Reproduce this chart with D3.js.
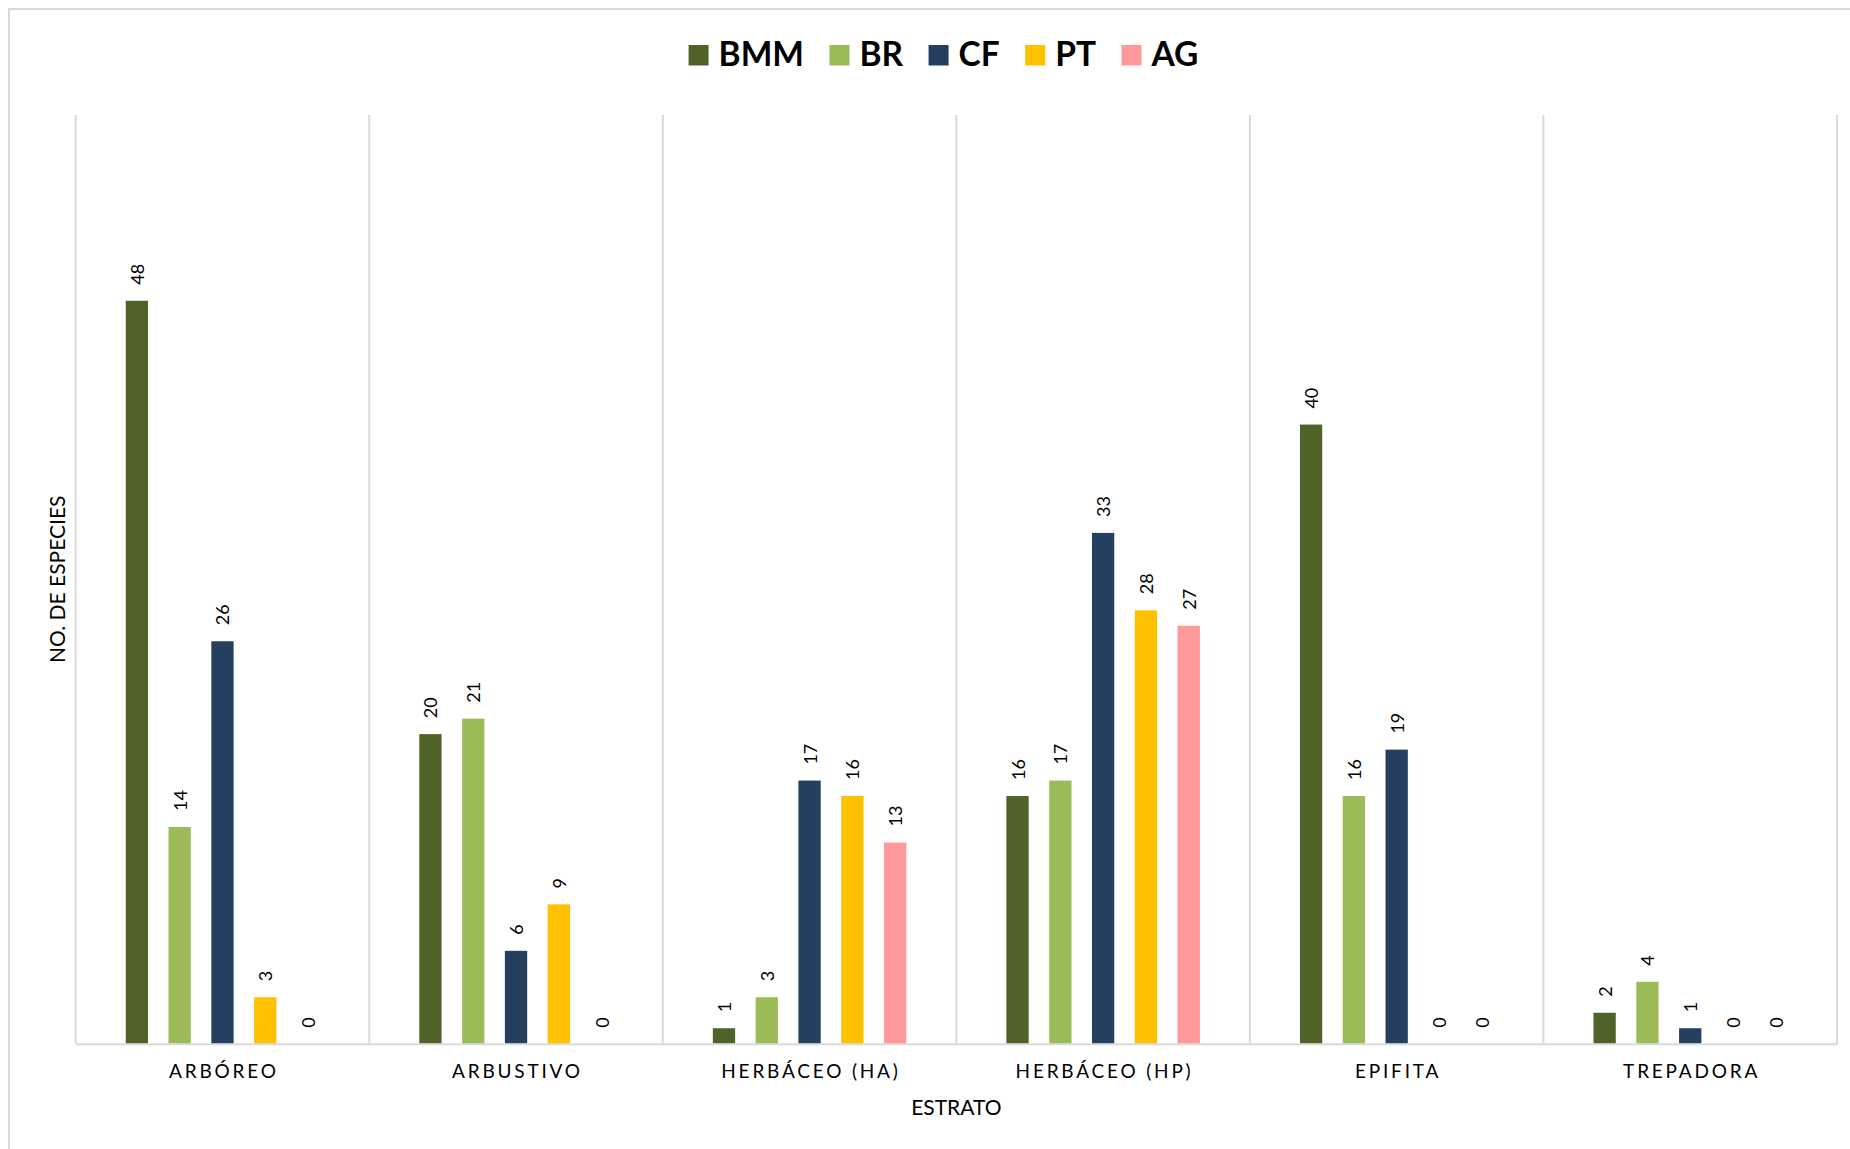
<!DOCTYPE html>
<html>
<head>
<meta charset="utf-8">
<script src="https://cdnjs.cloudflare.com/ajax/libs/d3/7.8.5/d3.min.js"></script>
<style>
  html, body { margin: 0; padding: 0; background: #fff; }
  svg { display: block; }
</style>
</head>
<body>
<script>
// Strata and species counts per vegetation type
const categories = ["ARBÓREO", "ARBUSTIVO", "HERBÁCEO (HA)", "HERBÁCEO (HP)", "EPIFITA", "TREPADORA"];
const seriesNames = ["BMM", "BR", "CF", "PT", "AG"];
const BMM = [48, 20, 1, 16, 40, 2];
const BR  = [14, 21, 3, 17, 16, 4];
const CF  = [26, 6, 17, 33, 19, 1];
const PT  = [3, 9, 16, 28, 0, 0];
const AG  = [0, 0, 13, 27, 0, 0];
const seriesValues = [BMM, BR, CF, PT, AG];
const seriesColors = ["#4f6228", "#9bbb59", "#243f60", "#ffc000", "#ff9999"];
const yMax = 60;

const W = 1850, H = 1149;
const plot = { left: 75.7, right: 1837, top: 115, bottom: 1043.7 };
const FONT = "Lato, 'Open Sans', 'Noto Sans', sans-serif";
const GRID = "#d9d9d9";

const svg = d3.select("body").append("svg").attr("width", W).attr("height", H);

// outer chart frame
svg.append("rect")
  .attr("x", 9).attr("y", 9).attr("width", W + 20).attr("height", H + 20)
  .attr("fill", "none").attr("stroke", GRID).attr("stroke-width", 2);

const x0 = d3.scaleBand().domain(categories).range([plot.left, plot.right]).padding(0);
const x1 = d3.scaleBand().domain(seriesNames).range([0, x0.bandwidth()])
  .paddingInner(0.479).paddingOuter(1.169);
const y = d3.scaleLinear().domain([0, yMax]).range([plot.bottom, plot.top]);

// vertical category separators
const bounds = categories.map(c => x0(c)).concat([x0(categories[categories.length - 1]) + x0.bandwidth()]);
svg.append("g").selectAll("line").data(bounds).join("line")
  .attr("x1", d => d).attr("x2", d => d)
  .attr("y1", plot.top).attr("y2", plot.bottom)
  .attr("stroke", GRID).attr("stroke-width", 2);

// bars
const rows = [];
categories.forEach((c, i) => {
  seriesNames.forEach((s, j) => {
    rows.push({ cat: c, series: s, value: seriesValues[j][i], color: seriesColors[j] });
  });
});

const g = svg.append("g");
g.selectAll("rect.bar").data(rows).join("rect")
  .attr("class", "bar")
  .attr("x", d => x0(d.cat) + x1(d.series))
  .attr("y", d => y(d.value))
  .attr("width", x1.bandwidth())
  .attr("height", d => y(0) - y(d.value))
  .attr("fill", d => d.color);

// baseline and category labels
const xAxis = d3.axisBottom(x0).tickSize(0).tickPadding(0);
const axisG = svg.append("g").attr("transform", `translate(0,${plot.bottom})`).call(xAxis);
axisG.select(".domain").attr("stroke", GRID).attr("stroke-width", 2);
axisG.selectAll(".tick text")
  .attr("y", 34)
  .attr("dy", 0)
  .attr("font-family", FONT)
  .attr("font-size", 19)
  .attr("letter-spacing", 2.8)
  .attr("fill", "#000")
  .attr("dx", 1.4);

// value labels, rotated
g.selectAll("text.val").data(rows).join("text")
  .attr("class", "val")
  .attr("transform", d => `translate(${x0(d.cat) + x1(d.series) + x1.bandwidth() / 2},${y(d.value) - 16}) rotate(-90)`)
  .attr("text-anchor", "start")
  .attr("dominant-baseline", "central")
  .attr("font-family", FONT)
  .attr("font-size", 18)
  .attr("fill", "#000")
  .text(d => d.value);

// axis titles
svg.append("text")
  .attr("x", (plot.left + plot.right) / 2).attr("y", 1115)
  .attr("text-anchor", "middle")
  .attr("font-family", FONT).attr("font-size", 21).attr("fill", "#000")
  .text("ESTRATO");

svg.append("text")
  .attr("transform", `translate(64.5,${(plot.top + plot.bottom) / 2}) rotate(-90)`)
  .attr("text-anchor", "middle")
  .attr("font-family", FONT).attr("font-size", 21).attr("fill", "#000")
  .text("NO. DE ESPECIES");

// legend
const legend = svg.append("g");
let cursor = 0;
seriesNames.forEach((s, j) => {
  const it = legend.append("g");
  it.append("rect").attr("x", 0).attr("y", 45).attr("width", 20).attr("height", 20.5).attr("fill", seriesColors[j]);
  const t = it.append("text").attr("x", 30).attr("y", 66)
    .attr("font-family", FONT).attr("font-weight", "bold").attr("font-size", 33.5).attr("fill", "#000")
    .text(s);
  const w = 30 + t.node().getComputedTextLength();
  it.attr("transform", `translate(${cursor},0)`);
  cursor += w + 25.5;
});
const legendWidth = cursor - 25.5;
legend.attr("transform", `translate(${943.5 - legendWidth / 2},0)`);
</script>
</body>
</html>
